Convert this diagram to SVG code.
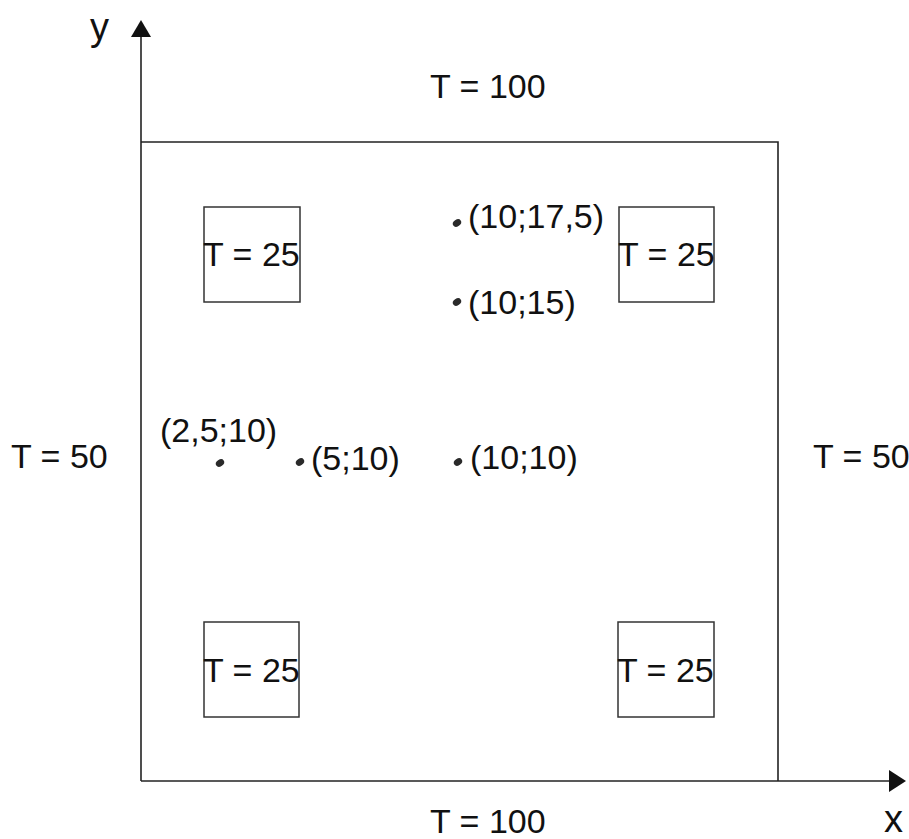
<svg xmlns="http://www.w3.org/2000/svg" width="909" height="839" viewBox="0 0 909 839">
<style>
text{font-family:"Liberation Sans",Arial,sans-serif;font-size:34px;fill:#111}
.ax{font-size:38px}
.ln{stroke:#222;stroke-width:1.6;fill:none}
.bx{stroke:#333;stroke-width:1.5;fill:none}
.dot{fill:#2a2a2a}
</style>
<rect width="909" height="839" fill="#fff"/>
<g id="connectors">
<line class="ln" x1="141" y1="35" x2="141" y2="781"/>
<polygon points="141,20 131,37 151,37" fill="#111"/>
<line class="ln" x1="141" y1="781" x2="891" y2="781"/>
<polygon points="906,781 889,770 889,792" fill="#111"/>
<polyline class="ln" points="141,142 778,142 778,781"/>
</g>
<g id="axis-labels">
<text class="ax" x="90" y="40">y</text>
<text class="ax" x="884" y="832">x</text>
</g>
<g id="boundary-labels">
<text x="430" y="98">T = 100</text>
<text x="430" y="833">T = 100</text>
<text x="11" y="468">T = 50</text>
<text x="813" y="468">T = 50</text>
</g>
<g id="box-tl"><rect class="bx" x="204" y="207" width="96" height="95"/><text x="203" y="266">T = 25</text></g>
<g id="box-tr"><rect class="bx" x="619" y="207" width="95" height="95"/><text x="618" y="266">T = 25</text></g>
<g id="box-bl"><rect class="bx" x="204" y="622" width="95" height="95"/><text x="203" y="682">T = 25</text></g>
<g id="box-br"><rect class="bx" x="618" y="622" width="96" height="95"/><text x="617" y="682">T = 25</text></g>
<g id="pt-10-17-5"><ellipse class="dot" cx="457" cy="223" rx="4.5" ry="3.3" transform="rotate(-35 457 223)"/><text x="468" y="228">(10;17,5)</text></g>
<g id="pt-10-15"><ellipse class="dot" cx="457" cy="302" rx="4.5" ry="3.3" transform="rotate(-35 457 302)"/><text x="468" y="314">(10;15)</text></g>
<g id="pt-10-10"><ellipse class="dot" cx="458" cy="462" rx="4.5" ry="3.3" transform="rotate(-35 458 462)"/><text x="470" y="469">(10;10)</text></g>
<g id="pt-5-10"><ellipse class="dot" cx="300" cy="462" rx="4.5" ry="3.3" transform="rotate(-35 300 462)"/><text x="311" y="470">(5;10)</text></g>
<g id="pt-2-5-10"><ellipse class="dot" cx="220" cy="463" rx="4.5" ry="3.3" transform="rotate(-35 220 463)"/><text x="160" y="442">(2,5;10)</text></g>
</svg>
